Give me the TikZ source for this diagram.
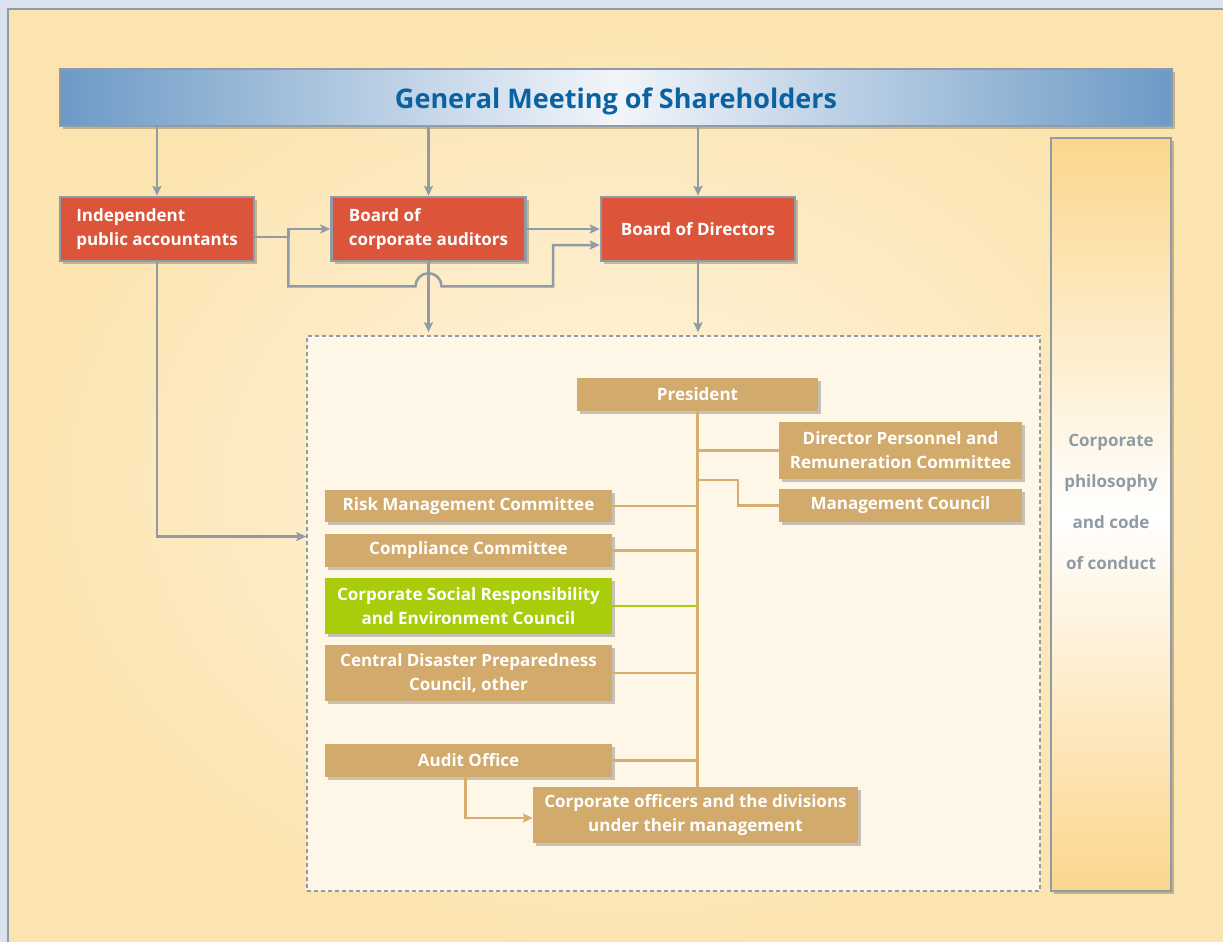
\documentclass[tikz,border=0pt]{standalone}
\usepackage{fontspec}
\setmainfont{Open Sans}
\usetikzlibrary{arrows.meta,positioning,calc,shadows}

\definecolor{bgblue}{HTML}{DBE3EF}
\definecolor{cream}{HTML}{FCE4B0}
\definecolor{glow}{HTML}{FEF4DE}
\definecolor{framegray}{HTML}{8F9BA6}
\definecolor{gmblue}{HTML}{6C9AC6}
\definecolor{gmlight}{HTML}{F2F5FA}
\definecolor{gmtext}{HTML}{0B62A0}
\definecolor{boardred}{HTML}{DC5439}
\definecolor{tan}{HTML}{D2AA6C}
\definecolor{tanline}{HTML}{D6AF70}
\definecolor{csrgreen}{HTML}{A9CC0B}
\definecolor{philorange}{HTML}{FCD68C}
\definecolor{innerfill}{HTML}{FEF7E8}

\tikzset{
  shade box/.style={drop shadow={shadow xshift=3pt, shadow yshift=-3pt, fill=black, opacity=0.22}},
  box/.style={rectangle, inner sep=0pt, align=center, text=white, shade box,
    font=\bfseries\fontsize{17}{24}\selectfont},
  redbox/.style={box, fill=boardred, draw=framegray, line width=2.5pt,
    minimum width=194pt, minimum height=64pt},
  tanbox/.style={box, fill=tan, minimum width=287pt, minimum height=33pt},
  link/.style={draw=framegray, line width=2.5pt},
  arr/.style={link, -{Stealth[length=10pt, width=9pt, inset=2pt]}},
  orgline/.style={draw=tanline, line width=2.5pt},
}

\begin{document}
\begin{tikzpicture}[x=1pt, y=-1pt]
  \useasboundingbox (0,0) rectangle (1223,942);
  \fill[bgblue] (0,0) rectangle (1223,942);
  \shade[inner color=glow, outer color=cream] (8,9) rectangle (1240,960);
  \draw[framegray, line width=2pt] (1240,9) -- (8,9) -- (8,960);

  % shareholders and boards
  \node (gm) [draw=framegray, line width=2.5pt, left color=gmblue, right color=gmblue,
    middle color=gmlight, minimum width=1112pt, minimum height=57pt, shade box,
    text=gmtext, text height=24pt, text depth=2pt,
    font=\bfseries\fontsize{27}{30}\selectfont] at (616,97.5)
    {General Meeting of Shareholders};

  \node (ipa) [redbox, align=left] at (157,229)
    {Independent\\public accountants};
  \node (bca) [redbox, align=left] at (428.5,229)
    {Board of\\corporate auditors};
  \node (bod) [redbox] at (698,229) {Board of Directors};

  \node (phil) [draw=framegray, line width=2.5pt, top color=philorange, bottom color=philorange,
    middle color=white, minimum width=120pt, minimum height=753pt, shade box,
    label={[anchor=north, yshift=-294pt, text=framegray, align=center,
      font=\bfseries\fontsize{17}{41}\selectfont]north:Corporate\\philosophy\\and code\\of conduct}]
    at (1111,514.5) {};

  % executive area
  \node (inner) [draw=framegray, line width=1.6pt, dash pattern=on 4pt off 3pt,
    fill=innerfill, minimum width=733pt, minimum height=555pt] at (673.5,613.5) {};

  \node (pres) [tanbox, minimum width=241pt] at (697.5,394.5) {President};
  \node (dprc) [tanbox, minimum width=243pt, minimum height=57pt] at (900.5,450.5)
    {Director Personnel and\\Remuneration Committee};
  \node (mc) [tanbox, minimum width=243pt] at (900.5,505.5) {Management Council};
  \node (rmc) [tanbox, minimum height=32pt] at (468.5,506) {Risk Management Committee};
  \node (cc) [tanbox] at (468.5,550.5) {Compliance Committee};
  \node (csr) [tanbox, fill=csrgreen, minimum height=56pt] at (468.5,606)
    {Corporate Social Responsibility\\and Environment Council};
  \node (cdpc) [tanbox, minimum height=56pt] at (468.5,673)
    {Central Disaster Preparedness\\Council, other};
  \node (ao) [tanbox] at (468.5,760.5) {Audit Office};
  \node (cod) [tanbox, minimum width=325pt, minimum height=56pt] at (695.5,815)
    {Corporate officers and the divisions\\under their management};

  % grey connectors
  \draw[arr] (gm.south -| ipa.north) -- (ipa.north);
  \draw[arr] (gm.south -| bca.north) -- (bca.north);
  \draw[arr] (gm.south -| bod.north) -- (bod.north);
  \draw[arr] ([yshift=-8pt]ipa.east) -- ++(33,0) coordinate (split) |- (bca.west);
  \draw[arr] (split) |- ($(bca.south)+(-13,24)$)
    arc[start angle=180, end angle=360, radius=13] -- ++(111.5,0)
    |- ([yshift=-16pt]bod.west);
  \draw[arr] (bca.east) -- (bod.west);
  \draw[arr] (bca.south) -- ([yshift=3pt]bca.south |- inner.north);
  \draw[arr] (bod.south) -- ([yshift=3pt]bod.south |- inner.north);
  \draw[arr] (ipa.south) |- ([yshift=77pt]inner.west);

  % organisation lines
  \draw[orgline] (pres.south) -- (pres.south |- cod.north);
  \draw[orgline] (dprc.west) -- (dprc.west -| pres.south);
  \draw[orgline] (mc.west) -- ++(-41,0) |- ([yshift=-1pt]dprc.south -| pres.south);
  \draw[orgline] (rmc.east) -- (rmc.east -| pres.south);
  \draw[orgline] (cc.east) -- (cc.east -| pres.south);
  \draw[orgline, draw=csrgreen] (csr.east) -- (csr.east -| pres.south);
  \draw[orgline] (cdpc.east) -- (cdpc.east -| pres.south);
  \draw[orgline] (ao.east) -- (ao.east -| pres.south);
  \draw[orgline, -{Stealth[length=10pt, width=9pt, inset=2pt]}]
    ([xshift=-3pt]ao.south) |- ([yshift=-3pt]cod.west);
\end{tikzpicture}
\end{document}
